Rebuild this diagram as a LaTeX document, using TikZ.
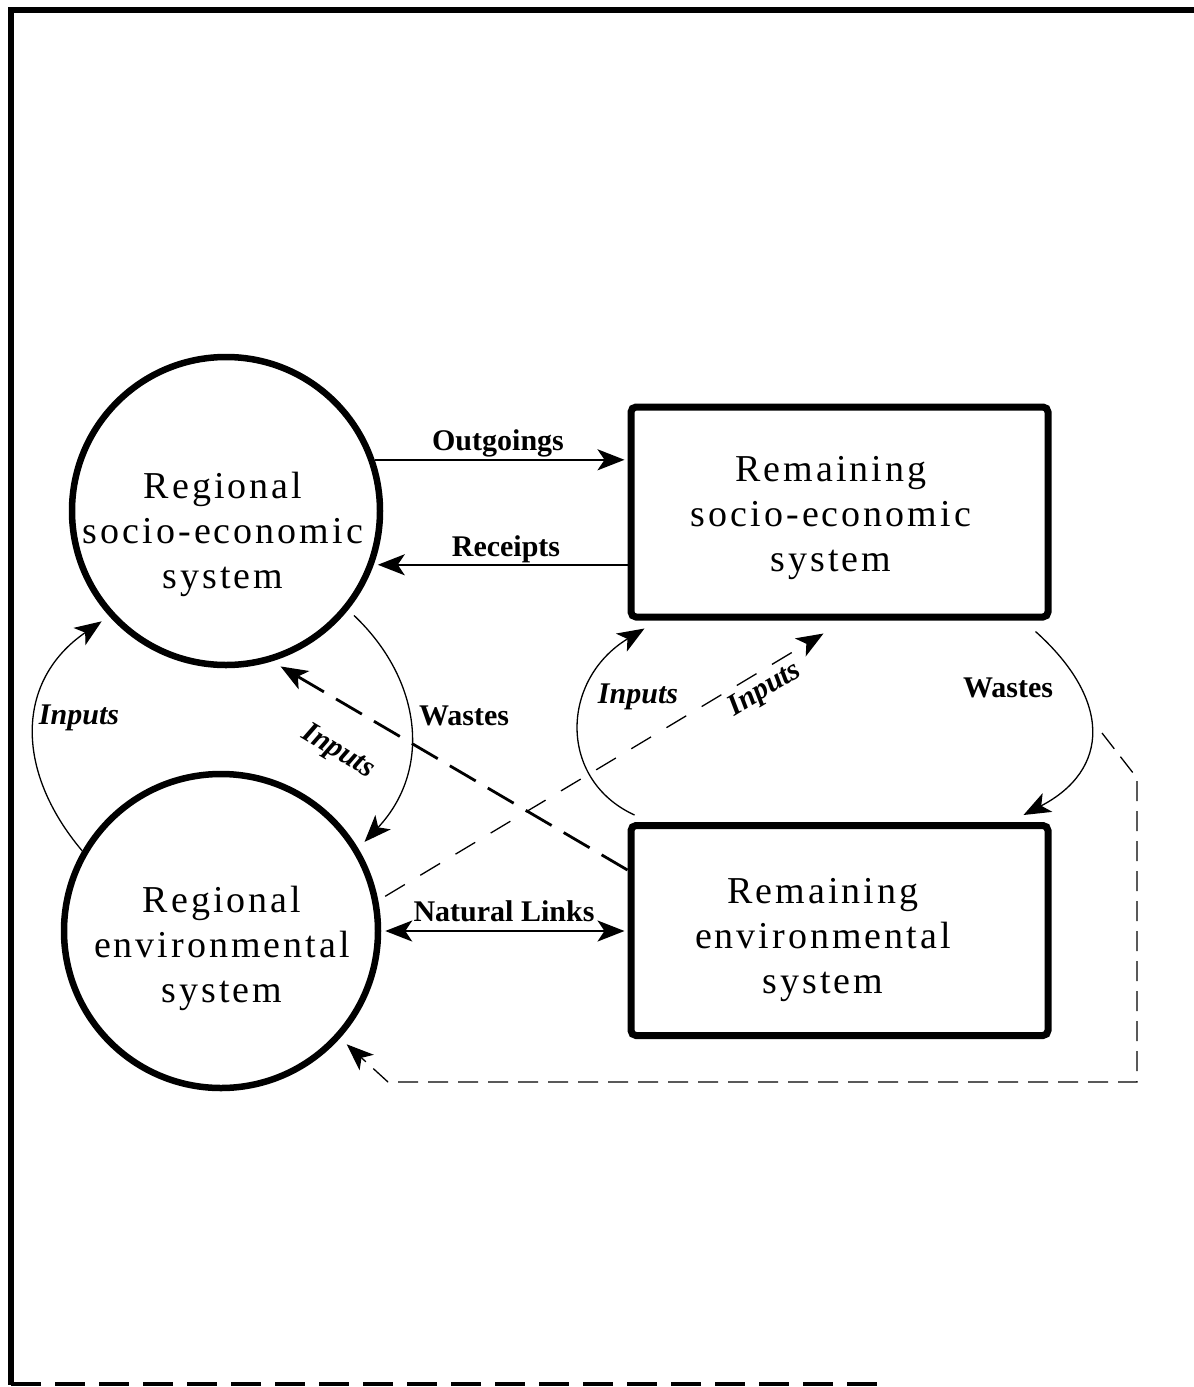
\documentclass[tikz,border=0pt]{standalone}
\usepackage{fontspec}
\setmainfont{Liberation Serif}
\newfontfamily\bigserif[LetterSpace=8]{Liberation Serif}
\usetikzlibrary{arrows.meta,calc}
\begin{document}
\begin{tikzpicture}[x=1pt,y=-1pt,
  regc/.style={circle,draw,line width=6.5pt,inner sep=0pt,minimum size=308pt},
  remb/.style={rectangle,draw,line width=7pt,rounded corners=5pt,inner sep=0pt,minimum width=417pt,minimum height=210pt},
  bigtxt/.style={align=center,font=\fontsize{38}{45}\bigserif,inner sep=0pt},
  lbl/.style={font=\fontsize{30}{36}\selectfont\bfseries,inner sep=1pt},
  ilbl/.style={font=\fontsize{30}{36}\selectfont\bfseries\itshape,inner sep=1pt},
  tipA/.style={-{Stealth[length=27pt,width=21pt,inset=7pt]}},
  flow/.style={tipA,line width=2.4pt},
  thin/.style={tipA,line width=1.3pt},
  bigdash/.style={tipA,line width=2.8pt,dash pattern=on 30pt off 14pt},
  smalldash/.style={tipA,line width=1.3pt,dash pattern=on 23pt off 18pt},
  backdash/.style={tipA,line width=1.3pt,dash pattern=on 20pt off 10pt},
  frameline/.style={line width=6.5pt}
]
\useasboundingbox (0,0) rectangle (1194,1387);
% frame
\draw[frameline] (1194,10) -- (11,10) -- (11,1385);
\draw[line width=4.5pt,dash pattern=on 30pt off 14pt] (11,1384) -- (880,1384);

% nodes
\node[regc] (c1) at (226,511) {};
\node[regc,minimum size=314pt] (c2) at (221,931) {};
\node[remb] (r1) at (839.5,512) {};
\node[remb] (r2) at (839.5,930.5) {};

\node[bigtxt] (t1) at (223,534) {Regional\\socio-economic\\system};
\node[bigtxt] (t2) at (222,948) {Regional\\environmental\\system};
\node[bigtxt] (t3) at (831,518) {Remaining\\socio-economic\\system};
\node[bigtxt] (t4) at (823,940) {Remaining\\environmental\\system};

% horizontal flows
\draw[flow,shorten >=3pt] (c1.19) -- (c1.19 -| r1.west);
\draw[flow] (c1.-20 -| r1.west) -- ([xshift=4pt]c1.-20);
\draw[flow,{Stealth[length=27pt,width=21pt,inset=7pt]}-{Stealth[length=27pt,width=21pt,inset=7pt]},shorten <=4pt,shorten >=3pt] (c2.east) -- (c2.east -| r2.west);
\node[lbl] (lo) at (498,443) {Outgoings};
\node[lbl] (lr) at (506,549) {Receipts};
\node[lbl] (ln) at (504,911) {Natural Links};

% left inputs (environment -> socio-economic)
\draw[thin,shorten >=9pt] (c2.150) .. controls (14,770) and (16,680) .. (c1.222);
\node[ilbl] (li1) at (79,718) {Inputs};

% left wastes
\draw[thin,shorten <=8pt,shorten >=9pt] (c1.-39) .. controls (422,680) and (432,770) .. (c2.31);
\node[lbl] (lw1) at (464,716) {Wastes};

% remaining environment -> regional socio-economic (thick dashed)
\draw[bigdash,shorten >=10pt] ([yshift=-48pt]r2.north west) -- (c1.-73);
\node[ilbl,rotate=-31] (li2) at (338,752) {Inputs};

% regional environment -> remaining socio-economic (thin dashed)
\draw[smalldash,shorten <=8pt] (c2.11) -- ($(r1.south west)+(196,13)$);
\node[ilbl,rotate=31] (li3) at (765,690) {Inputs};

% right inputs curve
\draw[thin] ($(r2.north west)+(7,-7)$) .. controls (558,780) and (560,680) .. ($(r1.south west)+(17,8)$);
\node[ilbl] (li4) at (638,697) {Inputs};

% right wastes curve
\draw[thin] ($(r1.south east)+(-16,11)$) .. controls (1112,700) and (1110,770) .. ($(r2.north east)+(-28,-7)$);
\node[lbl] (lw2) at (1008,688) {Wastes};

% return dashed path to regional environment
\coordinate (bs) at (1102,733);
\coordinate (b1) at (1137,778);
\coordinate (b2) at (1137,1082);
\coordinate (b3) at (388,1082);
\draw[backdash,shorten >=9pt] (bs) -- (b1) -- (b2) -- (b3) -- (c2.-42);
\end{tikzpicture}
\end{document}
